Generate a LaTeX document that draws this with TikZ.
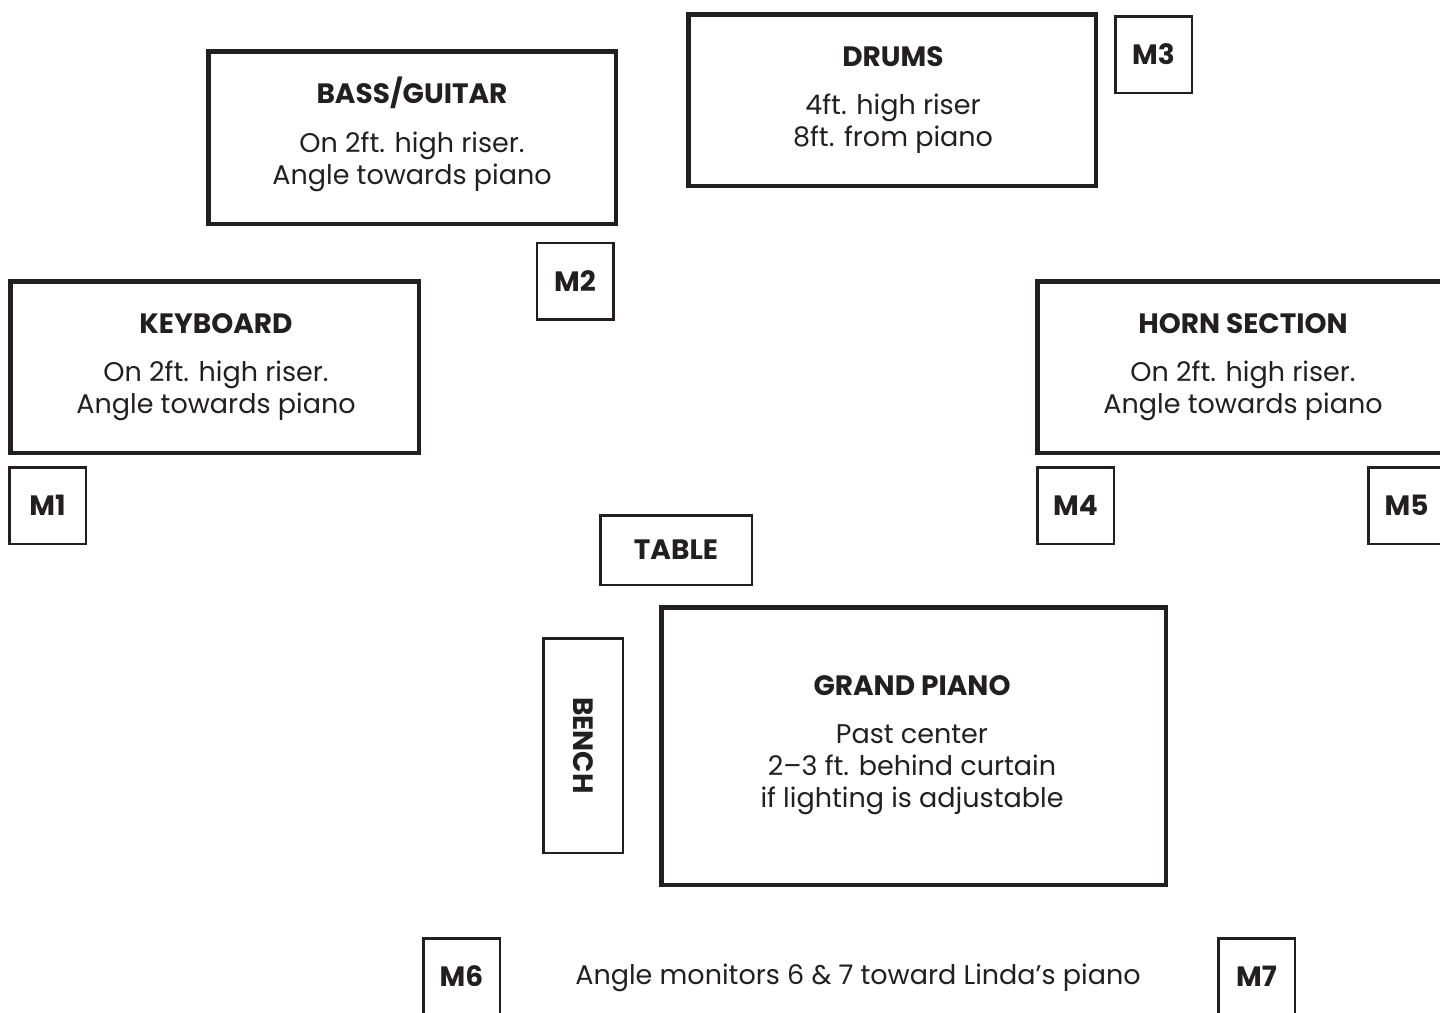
\documentclass[tikz,border=0pt]{standalone}
\usepackage{fontspec}
\setmainfont{Poppins}
\usepackage{graphicx}
\definecolor{ink}{HTML}{231F20}
\newcommand\ttlfont{\fontsize{28}{32}\selectfont\bfseries}
\newcommand\bdyfont{\fontsize{27}{32}\selectfont}
\newcommand\mlfont{\fontsize{28}{32}\selectfont\bfseries}
\begin{document}
\begin{tikzpicture}[x=1pt,y=-1pt,
  bigbox/.style={draw=ink, line width=4.5pt, inner sep=0pt, outer sep=0pt},
  smallbox/.style={draw=ink, line width=2.5pt, inner sep=0pt, outer sep=0pt, font=\mlfont, text=ink},
  mbox/.style={smallbox, minimum width=76.5pt, minimum height=76.5pt},
  ttl/.style={anchor=base, font=\ttlfont, text=ink, inner sep=0pt},
  bdy/.style={anchor=base, font=\bdyfont, text=ink, inner sep=0pt}]
\useasboundingbox (0,0) rectangle (1440,1012);
\clip (0,0) rectangle (1440,1012);

% big boxes
\node[bigbox, minimum width=407.5pt, minimum height=172.5pt] (bass) at (412,137.5) {};
\node[bigbox, minimum width=407.5pt, minimum height=171.5pt] (drums) at (892,100) {};
\node[bigbox, minimum width=408.5pt, minimum height=171.5pt] (keys) at (214.5,367) {};
\node[bigbox, minimum width=407.5pt, minimum height=171.5pt] (horn) at (1241,367) {};
\node[bigbox, minimum width=504.5pt, minimum height=277.5pt] (piano) at (913.5,746) {};

% texts in big boxes
\node[ttl] (bass-t) at (412,103) {BASS/GUITAR};
\node[bdy] (bass-1) at (412,152) {On 2ft. high riser.};
\node[bdy] (bass-2) at (412,184) {Angle towards piano};

\node[ttl] (drums-t) at (893,66) {DRUMS};
\node[bdy] (drums-1) at (893,114) {4ft. high riser};
\node[bdy] (drums-2) at (893,146) {8ft. from piano};

\node[ttl] (keys-t) at (216,333) {KEYBOARD};
\node[bdy] (keys-1) at (216,381) {On 2ft. high riser.};
\node[bdy] (keys-2) at (216,413) {Angle towards piano};

\node[ttl] (horn-t) at (1243,333) {HORN SECTION};
\node[bdy] (horn-1) at (1243,381) {On 2ft. high riser.};
\node[bdy] (horn-2) at (1243,413) {Angle towards piano};

\node[ttl] (piano-t) at (912,695) {GRAND PIANO};
\node[bdy] (piano-1) at (912,743) {Past center};
\node[bdy] (piano-2) at (912,775) {2–3 ft. behind curtain};
\node[bdy] (piano-3) at (912,807) {if lighting is adjustable};

% monitors
\node[mbox] (m1) at (47.5,505.5) {M1};
\node[mbox] (m2) at (575,281) {M2};
\node[mbox] (m3) at (1153.5,54.5) {M3};
\node[mbox] (m4) at (1075.5,505.5) {M4};
\node[mbox] (m5) at (1406.5,505.5) {M5};
\node[mbox] (m6) at (461.5,976.5) {M6};
\node[mbox] (m7) at (1256.5,976.5) {M7};

% table and bench
\node[smallbox, minimum width=151.5pt, minimum height=69.5pt] (table) at (676,550) {TABLE};
\node[smallbox, minimum width=79.5pt, minimum height=214.5pt] (bench) at (583,745.5) {};
\node[font=\mlfont, text=ink, rotate=-90, inner sep=0pt] (bench-t) at (bench.center) {BENCH};

% note
\node[bdy] (note) at (858,984) {Angle monitors 6 \& 7 toward Linda’s piano};
\end{tikzpicture}
\end{document}
